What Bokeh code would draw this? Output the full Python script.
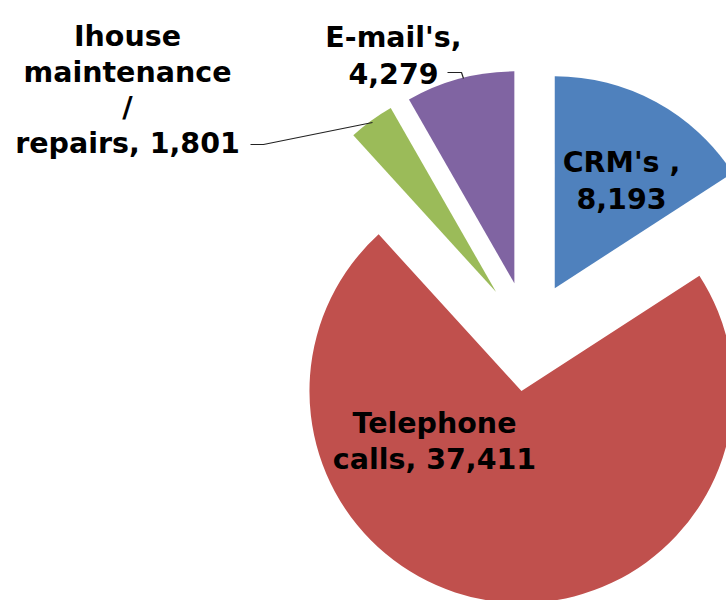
import math
from bokeh.plotting import figure
from bokeh.models import ColumnDataSource, Range1d
from bokeh.core.properties import value
from bokeh.embed import file_html
from bokeh.resources import INLINE

# ---- data ----
categories = ["CRM's", "Telephone calls", "Ihouse maintenance / repairs", "E-mail's"]
counts = [8193, 37411, 1801, 4279]
colors = ["#4F81BD", "#C0504D", "#9BBB59", "#8064A2"]

# ---- layout (screen pixels, y measured downward) ----
W, H = 726, 600
CX, CY = 528.0, 336.0      # pie centre
R = 212.0                  # radius
EXPLODE = 55.0             # explosion distance

total = float(sum(counts))
p = figure(width=W, height=H, x_range=Range1d(0, W), y_range=Range1d(0, H),
           toolbar_location=None, output_backend="svg", min_border=0,
           x_axis_type=None, y_axis_type=None)
p.grid.visible = False
p.outline_line_color = None
p.background_fill_color = "white"
p.border_fill_color = "white"

xs, ys, starts, ends = [], [], [], []
theta = 0.0  # degrees clockwise from 12 o'clock
for c in counts:
    span = 360.0 * c / total
    mid = math.radians(theta + span / 2)
    ax = CX + EXPLODE * math.sin(mid)
    ay = CY - EXPLODE * math.cos(mid)
    xs.append(ax)
    ys.append(H - ay)
    # math angles (anticlockwise from +x)
    starts.append(math.radians(90 - (theta + span)))
    ends.append(math.radians(90 - theta))
    theta += span

src = ColumnDataSource(dict(x=xs, y=ys, s=starts, e=ends, color=colors, cat=categories, n=counts))
p.wedge(x="x", y="y", radius=R, start_angle="s", end_angle="e", direction="anticlock",
        fill_color="color", line_color=None, source=src)

# ---- labels ----
fmt = [f"{v:,}" for v in counts]
label_lines = [
    ["CRM's ,", fmt[0]],
    ["Telephone", "calls, " + fmt[1]],
    ["Ihouse", "maintenance", "/", "repairs, " + fmt[2]],
    ["E-mail's,", fmt[3]],
]
# (centre x, first baseline y) in screen pixels
label_pos = [(621, 162), (434, 423), (127, 36), (393, 37)]
LINE = 35.5

tx, ty, tt = [], [], []
for lines, (lx, ly) in zip(label_lines, label_pos):
    for i, t in enumerate(lines):
        tx.append(lx)
        ty.append(H - (ly + i * LINE))
        tt.append(t)
p.text(x=tx, y=ty, text=tt, text_font=value("DejaVu Sans"), text_font_style="bold",
       text_font_size="28.5px", text_align="center", text_baseline="alphabetic",
       text_color="black")

# leader lines
p.line(x=[250, 263, 372], y=[H - 144, H - 144, H - 122], line_color="#222222", line_width=1.2)
p.line(x=[447, 461, 463], y=[H - 72, H - 72, H - 78], line_color="#222222", line_width=1.2)

open("out.html", "w").write(file_html(p, INLINE))
